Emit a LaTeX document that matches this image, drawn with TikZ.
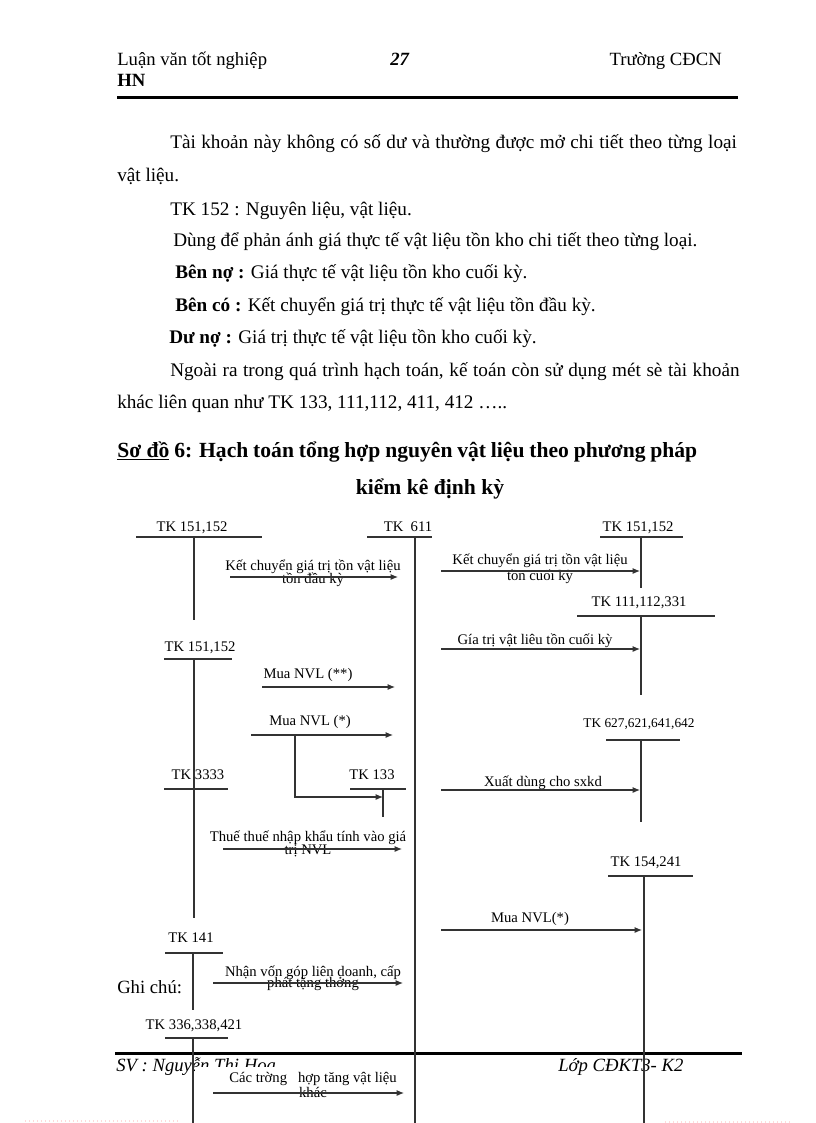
\documentclass[tikz,border=0pt]{standalone}
\usepackage{fontspec}
\setmainfont{Liberation Serif}
\usetikzlibrary{arrows.meta}
\newcommand\bodyfont{\fontsize{14.4}{16}\selectfont}
\newcommand\headfont{\fontsize{16.2}{18}\selectfont\bfseries}
\newcommand\lblfont{\fontsize{11}{12}\selectfont}
\newcommand\smlfont{\fontsize{10}{11}\selectfont}

\begin{document}
\begin{tikzpicture}[x=0.75pt,y=-0.75pt,
	txt/.style={font=\bodyfont,anchor=base west,inner sep=0pt},
	acc/.style={font=\lblfont,anchor=base,inner sep=0pt,align=center},
	tline/.style={line width=0.8pt,draw=black!80},
	mv/.style={tline,-{Latex[length=5.5pt,width=4.5pt]}}]
		%%%%% PAGE %%%%%
		\fill[white] (0,0) rectangle (816,1123);
		\useasboundingbox (0,0) rectangle (816,1123);
		
		\node[txt,font=\fontsize{14}{16}\selectfont] (hleft) at (117,66) {Luận văn tốt nghiệp};
		\node[txt,anchor=base,font=\fontsize{14}{16}\selectfont] (hpage) at (400,66) {\textbf{\textit{27}}};
		\node[txt,anchor=base east,font=\fontsize{14}{16}\selectfont] (hright) at (722,66) {Trường CĐCN};
		\node[txt,font=\fontsize{14}{16}\selectfont] (hleft2) at (117,87) {\textbf{HN}};
		\fill[black] (117,96.5) rectangle (738,99);
		
		\node[txt] (p1) at (170,149) {\makebox[425pt][s]{Tài khoản này không có số dư và thường được mở chi tiết theo từng loại}};
		\node[txt] (p2) at (117,182) {vật liệu.};
		\node[txt] (p3) at (170,215) {TK 152 : Nguyên liệu, vật liệu.};
		\node[txt] (p4) at (173,247) {Dùng để phản ánh giá thực tế vật liệu tồn kho chi tiết theo từng loại.};
		\node[txt] (p5) at (175,278) {\textbf{Bên nợ :} Giá thực tế vật liệu tồn kho cuối kỳ.};
		\node[txt] (p6) at (175,311) {\textbf{Bên có :} Kết chuyển giá trị thực tế vật liệu tồn đầu kỳ.};
		\node[txt] (p7) at (169,343) {\textbf{Dư nợ :} Giá trị thực tế vật liệu tồn kho cuối kỳ.};
		\node[txt] (p8) at (170,376) {\makebox[427pt][s]{Ngoài ra trong quá trình hạch toán, kế toán còn sử dụng mét sè tài khoản}};
		\node[txt] (p9) at (117,408) {khác liên quan như TK 133, 111,112, 411, 412 …..};
		
		\node[txt,font=\headfont] (title1) at (117,457) {\makebox[435pt][s]{\underline{Sơ đồ} 6: Hạch toán tổng hợp nguyên vật liệu theo phương pháp}};
		\node[txt,font=\headfont,anchor=base] (title2) at (430,494) {kiểm kê định kỳ};
		
		%%%%% FOOTER %%%%%
		\fill[black] (115,1052) rectangle (742,1054.5);
		\node[txt,font=\fontsize{14}{16}\selectfont] (fleft) at (116,1071) {\textit{SV : Nguyễn Thị Hoa}};
		\node[txt,font=\fontsize{14}{16}\selectfont] (fright) at (558,1071) {\textit{Lớp CĐKT3- K2}};
		\fill[white] (195,1066.5) rectangle (410,1102);
		\draw[pink!60,dotted,line width=1pt] (25,1121) -- (180,1121);
		\draw[pink!60,dotted,line width=1pt] (665,1122) -- (790,1122);
		
		%%%%% ACCOUNTS %%%%%
		\node[acc] (tk151a) at (192,531) {TK 151,152};
		\draw[tline] (136,537) -- (262,537);
		\draw[tline] (194,537) -- (194,620);
		
		\node[acc] (tk611) at (408,531) {TK\ \ 611};
		\draw[tline] (367,537) -- (432,537);
		\draw[tline] (415,537) -- (415,1123);
		
		\node[acc] (tk151b) at (638,531) {TK 151,152};
		\draw[tline] (600,537) -- (683,537);
		\draw[tline] (641,537) -- (641,588);
		
		\node[acc] (tk111) at (639,606) {TK 111,112,331};
		\draw[tline] (577,616) -- (715,616);
		\draw[tline] (641,616) -- (641,695);
		
		\node[acc] (tk151c) at (200,651) {TK 151,152};
		\draw[tline] (164,659) -- (232,659);
		\draw[tline] (194,659) -- (194,918);
		
		\node[acc,font=\smlfont] (tk627) at (639,727) {TK 627,621,641,642};
		\draw[tline] (606,740) -- (680,740);
		\draw[tline] (641,740) -- (641,822);
		
		\node[acc] (tk3333) at (198,779) {TK 3333};
		\draw[tline] (164,789) -- (228,789);
		
		\node[acc] (tk133) at (372,779) {TK 133};
		\draw[tline] (350,789) -- (406,789);
		\draw[tline] (383,789) -- (383,817);
		
		\node[acc] (tk154) at (646,866) {TK 154,241};
		\draw[tline] (608,876) -- (693,876);
		\draw[tline] (644,876) -- (644,1123);
		
		\node[acc] (tk141) at (191,942) {TK 141};
		\draw[tline] (165,953) -- (223,953);
		\draw[tline] (193,953) -- (193,1010);
		
		\node[acc] (tk336) at (194,1029) {TK 336,338,421};
		\draw[tline] (165,1038) -- (228,1038);
		\draw[tline] (193,1038) -- (193,1123);
		
		\node[txt,font=\fontsize{14}{16}\selectfont] (ghichu) at (117,993) {Ghi chú:};
		
		%%%%% MOVES %%%%%
		\coordinate (k1s) at (230,577);  \coordinate (k1e) at (398,577);
		\coordinate (k2s) at (441,571);  \coordinate (k2e) at (640,571);
		\coordinate (g1s) at (441,649);  \coordinate (g1e) at (640,649);
		\coordinate (m2s) at (262,687);  \coordinate (m2e) at (395,687);
		\coordinate (m1s) at (251,735);  \coordinate (m1e) at (393,735);
		\coordinate (vb) at (295,735);   \coordinate (vbd) at (295,797);
		\coordinate (vbe) at (383,797);
		\coordinate (x1s) at (441,790);  \coordinate (x1e) at (640,790);
		\coordinate (n1s) at (223,849);  \coordinate (n1e) at (402,849);
		\coordinate (m3s) at (441,930);  \coordinate (m3e) at (642,930);
		\coordinate (v1s) at (213,983);  \coordinate (v1e) at (403,983);
		\coordinate (c1s) at (213,1093); \coordinate (c1e) at (404,1093);
		
		\node[acc] (k1t) at (313,583) {Kết chuyển giá trị tồn vật liệu\\[-2.3pt]tồn đầu kỳ};
		\draw[mv] (k1s) -- (k1e);
		\node[acc] (k2t) at (540,580) {Kết chuyển giá trị tồn vật liệu\\[0pt]tồn cuối kỳ};
		\draw[mv] (k2s) -- (k2e);
		\node[acc] (g1t) at (535,644) {Gía trị vật liêu tồn cuối kỳ};
		\draw[mv] (g1s) -- (g1e);
		\node[acc] (m2t) at (308,678) {Mua NVL (**)};
		\draw[mv] (m2s) -- (m2e);
		\node[acc] (m1t) at (310,725) {Mua NVL (*)};
		\draw[mv] (m1s) -- (m1e);
		\draw[mv] (vb) -- (vbd) -- (vbe);
		\node[acc] (x1t) at (543,786) {Xuất dùng cho sxkd};
		\draw[mv] (x1s) -- (x1e);
		\node[acc] (n1t) at (308,854) {Thuế thuế nhập khẩu tính vào giá\\[-2.3pt]trị NVL};
		\draw[mv] (n1s) -- (n1e);
		\node[acc] (m3t) at (530,922) {Mua NVL(*)};
		\draw[mv] (m3s) -- (m3e);
		\node[acc] (v1t) at (313,987) {Nhận vốn góp liên doanh, cấp\\[-3.8pt]phát tặng thởng};
		\draw[mv] (v1s) -- (v1e);
		\node[acc] (c1t) at (313,1097) {Các trờng\ \ \ hợp tăng vật liệu\\[-0.8pt]khác};
		\draw[mv] (c1s) -- (c1e);
	\end{tikzpicture}
\end{document}
